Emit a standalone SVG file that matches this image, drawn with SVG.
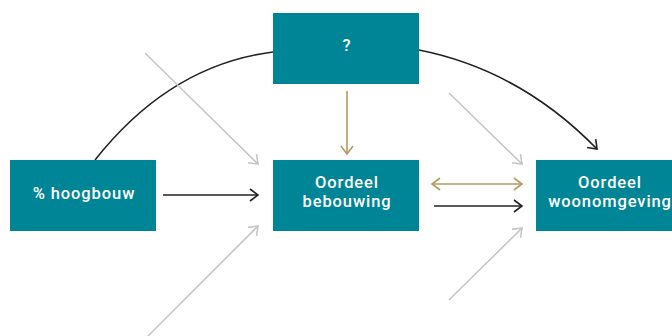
<svg xmlns="http://www.w3.org/2000/svg" width="672" height="336" viewBox="0 0 672 336">
  <style>
    .box { fill: #008596; }
    .lbl { fill: #ffffff; font-family: "Roboto", "Liberation Sans", sans-serif; font-size: 16.5px; font-weight: 500; letter-spacing: 0.9px; text-anchor: middle; }
    .dark { stroke: #222222; stroke-width: 1.6; fill: none; }
    .gold { stroke: #b19b62; stroke-width: 1.6; fill: none; }
    .grey { stroke: #c6c6c6; stroke-width: 1.6; fill: none; }
  </style>
  <defs>
    <marker id="ah-dark" markerUnits="userSpaceOnUse" viewBox="0 0 10 14" refX="9" refY="7" markerWidth="10" markerHeight="14" orient="auto-start-reverse">
      <path d="M1,1 L9,7 L1,13" fill="none" stroke="#222222" stroke-width="1.6"/>
    </marker>
    <marker id="ah-gold" markerUnits="userSpaceOnUse" viewBox="0 0 10 14" refX="9" refY="7" markerWidth="10" markerHeight="14" orient="auto-start-reverse">
      <path d="M1,1 L9,7 L1,13" fill="none" stroke="#b19b62" stroke-width="1.6"/>
    </marker>
    <marker id="ah-grey" markerUnits="userSpaceOnUse" viewBox="0 0 10 14" refX="9" refY="7" markerWidth="10" markerHeight="14" orient="auto-start-reverse">
      <path d="M1,1 L9,7 L1,13" fill="none" stroke="#c6c6c6" stroke-width="1.6"/>
    </marker>
  </defs>

  <g id="connectors">
    <!-- curved links via the unknown factor -->
    <path class="dark" d="M95,160 Q170,65 273,52"/>
    <path class="dark" d="M419,50 Q520,70 597,149" marker-end="url(#ah-dark)"/>
    <!-- direct links -->
    <line class="dark" x1="163" y1="195" x2="258" y2="195" marker-end="url(#ah-dark)"/>
    <line class="dark" x1="434" y1="206" x2="522" y2="206" marker-end="url(#ah-dark)"/>
    <line class="gold" x1="347" y1="91" x2="347" y2="154" marker-end="url(#ah-gold)"/>
    <line class="gold" x1="432" y1="184" x2="522" y2="184" marker-start="url(#ah-gold)" marker-end="url(#ah-gold)"/>
    <!-- other influences -->
    <line class="grey" x1="145" y1="53" x2="258" y2="164" marker-end="url(#ah-grey)"/>
    <line class="grey" x1="148" y1="336" x2="258" y2="226" marker-end="url(#ah-grey)"/>
    <line class="grey" x1="449" y1="93" x2="522" y2="164" marker-end="url(#ah-grey)"/>
    <line class="grey" x1="449" y1="300" x2="522" y2="228" marker-end="url(#ah-grey)"/>
  </g>

  <g id="node-unknown">
    <rect class="box" x="273" y="13" width="146" height="71"/>
    <text class="lbl" x="347" y="51">?</text>
  </g>
  <g id="node-hoogbouw">
    <rect class="box" x="10" y="160" width="146" height="71"/>
    <text class="lbl" x="84" y="199">% hoogbouw</text>
  </g>
  <g id="node-bebouwing">
    <rect class="box" x="273" y="160" width="146" height="71"/>
    <text class="lbl" x="347" y="188">Oordeel</text>
    <text class="lbl" x="347" y="207">bebouwing</text>
  </g>
  <g id="node-woonomgeving">
    <rect class="box" x="536" y="160" width="146" height="71"/>
    <text class="lbl" x="610" y="188">Oordeel</text>
    <text class="lbl" x="610" y="207">woonomgeving</text>
  </g>
</svg>
